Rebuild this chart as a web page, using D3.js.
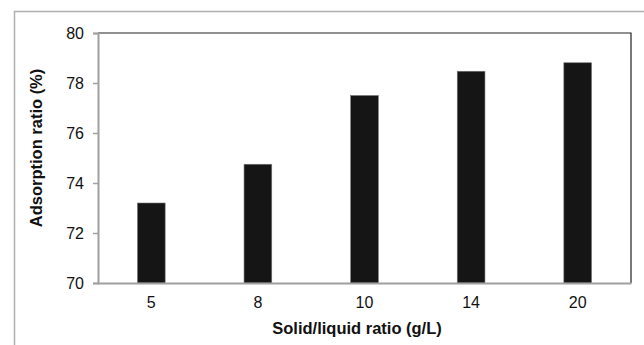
<!DOCTYPE html>
<html>
<head>
<meta charset="utf-8">
<script src="https://cdn.jsdelivr.net/npm/d3@7"></script>
<style>
  body { margin: 0; background: #fff; }
  text { font-family: "Liberation Sans", Arial, sans-serif; fill: #111; }
</style>
</head>
<body>
<div id="chart"></div>
<script>
var categories = ["5", "8", "10", "14", "20"];
var values = [73.2, 74.75, 77.5, 78.47, 78.81];
var yTicks = [70, 72, 74, 76, 78, 80];

var totalWidth = 644,
    totalHeight = 345,
    mTop = 33,
    mLeft = 98,
    mRight = 13,
    mBottom = 62;

var width = totalWidth - mLeft - mRight,
    height = totalHeight - mTop - mBottom;

var svg = d3.select("#chart").append("svg")
    .attr("width", totalWidth)
    .attr("height", totalHeight);

// outer frame
svg.append("path")
    .attr("d", "M14.5,345 V11.5 H644")
    .attr("fill", "none")
    .attr("stroke", "#b0b0b0")
    .attr("stroke-width", 1.5);

var g = svg.append("g")
    .attr("transform", "translate(" + mLeft + "," + mTop + ")");

var xScale = d3.scaleBand()
    .domain(categories)
    .range([0, width])
    .paddingInner(0.74)
    .paddingOuter(0.37);

var yScale = d3.scaleLinear()
    .domain([70, 80])
    .range([height, 0]);

// top and right border of plot area
g.append("path")
    .attr("d", "M0,0 H" + width + " V" + height)
    .attr("fill", "none")
    .attr("stroke", "#222")
    .attr("stroke-width", 1.2);

// bars
g.selectAll("rect.bar")
    .data(values)
    .enter().append("rect")
    .attr("class", "bar")
    .attr("x", function(d, i) { return xScale(categories[i]); })
    .attr("y", function(d) { return yScale(d); })
    .attr("width", xScale.bandwidth())
    .attr("height", function(d) { return height - yScale(d); })
    .attr("fill", "#151515")
    .attr("stroke", "#777")
    .attr("stroke-width", 0.6);

// y axis
var yAxis = d3.axisLeft(yScale).tickValues(yTicks).tickSize(5).tickPadding(9);
var yG = g.append("g").call(yAxis);
yG.select(".domain").attr("stroke", "#a0a0a0").attr("stroke-width", 2);
yG.selectAll(".tick line").attr("stroke", "#a0a0a0").attr("stroke-width", 1.5);
yG.selectAll(".tick text")
    .style("font-family", "'Liberation Sans', Arial, sans-serif")
    .style("font-size", "16px")
    .attr("fill", "#111");

// x axis
var xAxis = d3.axisBottom(xScale).tickSize(0).tickPadding(13.5);
var xG = g.append("g")
    .attr("transform", "translate(0," + height + ")")
    .call(xAxis);
xG.select(".domain").attr("stroke", "#a0a0a0").attr("stroke-width", 2);
xG.selectAll(".tick text")
    .style("font-family", "'Liberation Sans', Arial, sans-serif")
    .style("font-size", "16px")
    .attr("fill", "#111");

// axis titles
svg.append("text")
    .attr("x", 357)
    .attr("y", 334)
    .attr("text-anchor", "middle")
    .style("font-size", "16.5px")
    .style("font-weight", "bold")
    .text("Solid/liquid ratio (g/L)");

svg.append("text")
    .attr("transform", "translate(41.5,148) rotate(-90)")
    .attr("text-anchor", "middle")
    .style("font-size", "16.5px")
    .style("font-weight", "bold")
    .text("Adsorption ratio (%)");
</script>
</body>
</html>
